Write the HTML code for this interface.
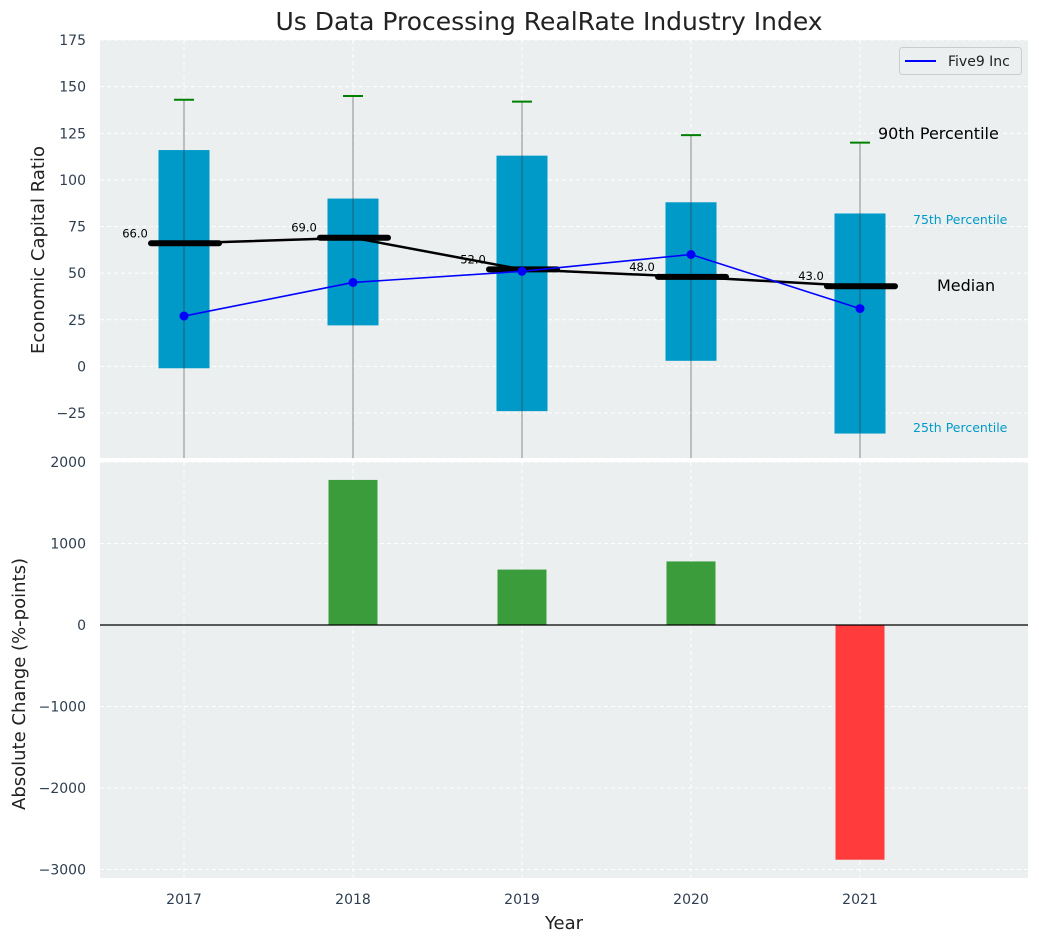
<!DOCTYPE html>
<html><head><meta charset="utf-8"><style>
body{margin:0;background:#fff;font-family:"Liberation Sans","DejaVu Sans",sans-serif}
svg text{font-family:"DejaVu Sans","Liberation Sans",sans-serif}
</style></head><body>
<svg id="c" width="1039" height="942"></svg>
<script>
const years=[2017,2018,2019,2020,2021];
const p25=[-1,22,-24,3,-36];
const p75=[116,90,113,88,82];
const p90=[143,145,142,124,120];
const medians=[66,69,52,48,43];
const five9=[27,45,51,60,31];
const changes=[0,1780,680,780,-2880];
const topTicks=[-25,0,25,50,75,100,125,150,175];
const botTicks=[-3000,-2000,-1000,0,1000,2000];
const NS='http://www.w3.org/2000/svg';
const svg=document.getElementById('c');
function el(t,a,p){const e=document.createElementNS(NS,t);for(const k in a)e.setAttribute(k,a[k]);(p||svg).appendChild(e);return e;}
const L=100,R=1028;
const x=v=>184+(v-2017)*169;
const yT=v=>366.4-v*1.865;
const yB=v=>625-v*0.0815;
const T1=40,B1=458,T2=462,B2=878;
let r=el('rect',{x:L,y:T1,width:R-L,height:B1-T1,fill:'#ebefef'});

r=el('rect',{x:L,y:T2,width:R-L,height:B2-T2,fill:'#ebefef'});

years.forEach(v=>{el('line',{x1:x(v),x2:x(v),y1:T1,y2:B1,stroke:'#fff','stroke-dasharray':'4,3','stroke-width':1});el('line',{x1:x(v),x2:x(v),y1:T2,y2:B2,stroke:'#fff','stroke-dasharray':'4,3','stroke-width':1});});
topTicks.forEach(v=>{el('line',{x1:L,x2:R,y1:yT(v),y2:yT(v),stroke:'#fff','stroke-dasharray':'4,3'});
 const t=el('text',{x:86,y:yT(v)+5,'text-anchor':'end','font-size':14,fill:'#2e3e50'});t.textContent=(v<0?'−'+(-v):v);
 });
botTicks.forEach(v=>{el('line',{x1:L,x2:R,y1:yB(v),y2:yB(v),stroke:'#fff','stroke-dasharray':'4,3'});
 const t=el('text',{x:86,y:yB(v)+5,'text-anchor':'end','font-size':14,fill:'#2e3e50'});t.textContent=(v<0?'−'+(-v):v);
 });
years.forEach((v,i)=>{
 const b=el('rect',{x:x(v)-25.5,y:yT(p75[i]),width:51,height:yT(p25[i])-yT(p75[i]),fill:'#009ac9'});
 
 el('line',{x1:x(v),x2:x(v),y1:yT(p90[i]),y2:B1,stroke:'#333','stroke-opacity':0.55,'stroke-width':1});
 const w=el('line',{x1:x(v)-10,x2:x(v)+10,y1:yT(p90[i]),y2:yT(p90[i]),stroke:'green','stroke-width':2});
 
});
let mp=years.map((v,i)=>x(v)+','+yT(medians[i])).join(' ');
el('polyline',{points:mp,fill:'none',stroke:'#000','stroke-width':2.5});
years.forEach((v,i)=>{
 const m=el('line',{x1:x(v)-33,x2:x(v)+35,y1:yT(medians[i]),y2:yT(medians[i]),stroke:'#000','stroke-width':6,'stroke-linecap':'round'});
 
 const t=el('text',{x:x(v)-49,y:yT(medians[i])-6,'text-anchor':'middle','font-size':11.5,fill:'#000'});t.textContent=medians[i].toFixed(1);
 
});
el('polyline',{points:years.map((v,i)=>x(v)+','+yT(five9[i])).join(' '),fill:'none',stroke:'blue','stroke-width':1.6});
years.forEach((v,i)=>{const c=el('circle',{cx:x(v),cy:yT(five9[i]),r:4.5,fill:'blue'});
 });
function txt(s,a,n){const t=el('text',a);t.textContent=s;return t;}
txt('90th Percentile',{x:878,y:139,'font-size':16,fill:'#000'},'p90-annotation');
txt('75th Percentile',{x:913,y:224,'font-size':12.5,fill:'#009ac9'},'p75-annotation');
txt('Median',{x:937,y:291,'font-size':16,fill:'#000'},'median-annotation');
txt('25th Percentile',{x:913,y:432,'font-size':12.5,fill:'#009ac9'},'p25-annotation');
const lg=el('rect',{x:899.5,y:47.5,width:122,height:27,rx:3,fill:'#ebefef',stroke:'#ccc'});

el('line',{x1:905,x2:936,y1:61,y2:61,stroke:'blue','stroke-width':2});
txt('Five9 Inc',{x:948,y:66,'font-size':14,fill:'#222'},'legend-entry');
years.forEach((v,i)=>{const y0=yB(Math.max(0,changes[i])),y1=yB(Math.min(0,changes[i]));
 const b=el('rect',{x:x(v)-24.5,y:y0,width:49,height:y1-y0,fill:changes[i]>=0?'#3a9c3a':'#ff3b3b'});
 });
el('line',{x1:L,x2:R,y1:yB(0),y2:yB(0),stroke:'#000','stroke-width':1.2});
years.forEach(v=>txt(String(v),{x:x(v),y:904,'text-anchor':'middle','font-size':14,fill:'#2e3e50'},'x-tick-label'));
txt('Year',{x:564,y:929,'text-anchor':'middle','font-size':18,fill:'#222'},'x-axis-title');
txt('Economic Capital Ratio',{x:0,y:0,'text-anchor':'middle','font-size':18,fill:'#222',transform:'translate(44,250) rotate(-90)'},'y-axis-title');
txt('Absolute Change (%-points)',{x:0,y:0,'text-anchor':'middle','font-size':18,fill:'#222',transform:'translate(25,684) rotate(-90)'},'y2-axis-title');
txt('Us Data Processing RealRate Industry Index',{x:549,y:30,'text-anchor':'middle','font-size':25,fill:'#222'},'chart-title');
</script>
</body></html>
